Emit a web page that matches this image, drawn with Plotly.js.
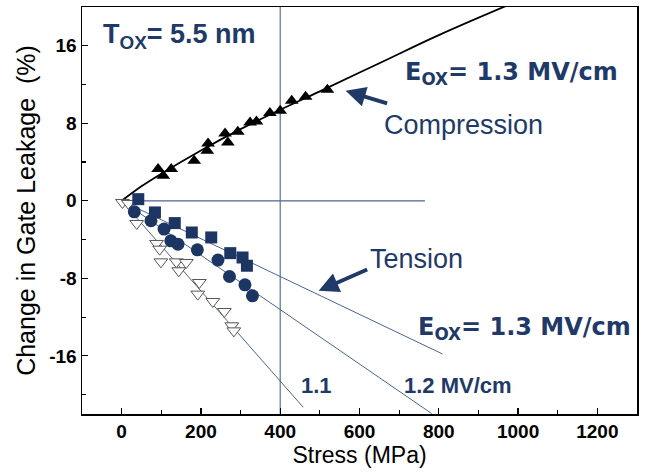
<!DOCTYPE html>
<html>
<head>
<meta charset="utf-8">
<script src="https://cdn.plot.ly/plotly-3.0.1.min.js"></script>
<style>html,body{margin:0;padding:0;background:#fff;}#chart{width:646px;height:474px;}</style>
</head>
<body>
<div id="chart"></div>
<script>
// Compression (filled up-triangles)
const compX = [92,105,125,183,216,218,261,268,293,324,340,374,400,429,464,519];
const compY = [3.27,2.58,3.27,4.13,5.16,5.91,6.95,6.02,7.12,8.08,8.18,9.05,9.29,10.32,10.73,11.46];
// Compression fit curve
const compFitX = [0,50,100,200,300,400,500,650,800,975];
const compFitY = [0,1.5,2.8,5.2,7.4,9.4,11.3,14.2,17.1,20.2];
// Tension, Eox = 1.3 MV/cm (squares)
const sqX = [42,84,134,177,226,274,305,316];
const sqY = [0.17,-1.2,-2.3,-3.27,-3.78,-5.4,-5.85,-6.7];
// Tension, 1.2 MV/cm (circles)
const ciX = [32,74,107,124,142,191,243,272,311,330];
const ciY = [-1.14,-2.06,-2.92,-4.13,-4.47,-5.06,-6.12,-7.81,-8.67,-9.8];
// Tension, 1.1 MV/cm (open down-triangles)
const trX = [2,17,38,88,96,99,138,144,163,196,192,230,259,278,283];
const trY = [-0.17,-0.27,-2.34,-4.4,-4.99,-6.3,-6.3,-7.22,-6.37,-8.43,-9.63,-10.39,-11.42,-12.9,-13.42];
// Tension fit lines (start / end points)
const fit13X = [0,809], fit13Y = [0,-15.8];
const fit12X = [0,782], fit12Y = [0,-21.95];
const fit11X = [0,458], fit11Y = [0,-21.3];
// Reference lines
const hRefX = [-12,765], hRefY = [0,0];
const vRefX = [400,400], vRefY = [-22,20];
const xTicks = [0,200,400,600,800,1000,1200];
const yTicks = [-16,-8,0,8,16];

const navy = '#1f3a68';
const thin = '#4a6590';

const traces = [
  {x:hRefX,y:hRefY,mode:'lines',line:{color:thin,width:1.2},hoverinfo:'skip'},
  {x:vRefX,y:vRefY,mode:'lines',line:{color:'#5b7196',width:1.2},hoverinfo:'skip'},
  {x:fit13X,y:fit13Y,mode:'lines',line:{color:thin,width:1},hoverinfo:'skip'},
  {x:fit12X,y:fit12Y,mode:'lines',line:{color:thin,width:1},hoverinfo:'skip'},
  {x:fit11X,y:fit11Y,mode:'lines',line:{color:thin,width:1},hoverinfo:'skip'},
  {x:compFitX,y:compFitY,mode:'lines',line:{color:'#000',width:1.8,shape:'spline'},hoverinfo:'skip'},
  {x:trX,y:trY,mode:'markers',marker:{symbol:'triangle-down',size:12,color:'#fff',line:{color:'#555',width:1}}},
  {x:ciX,y:ciY,mode:'markers',marker:{symbol:'circle',size:13,color:'#1c3563'}},
  {x:sqX,y:sqY,mode:'markers',marker:{symbol:'square',size:12,color:'#1c3563'}},
  {x:compX,y:compY,mode:'markers',marker:{symbol:'triangle-up',size:12,color:'#000'}}
];

const txt = (x,y,text,size,bold,family) => ({
  x:x,y:y,xref:'x',yref:'y',text:bold?'<b>'+text+'</b>':text,showarrow:false,
  xanchor:'left',yanchor:'middle',font:{family:family||'Liberation Sans, Arial, sans-serif',size:size,color:navy}
});

const layout = {
  width:646,height:474,
  margin:{l:82,r:9,t:7,b:60},
  paper_bgcolor:'#fff',plot_bgcolor:'#fff',
  showlegend:false,
  font:{family:'Liberation Sans, Arial, sans-serif',color:'#000'},
  xaxis:{
    range:[-100,1300],tickvals:xTicks,ticktext:xTicks.map(v=>'<b>'+v+'</b>'),
    ticks:'inside',ticklen:6,tickwidth:1.2,tickcolor:'#000',
    minor:{tickvals:[100,300,500,700,900,1100],ticks:'inside',ticklen:4,tickcolor:'#000'},
    showline:true,mirror:true,linecolor:'#000',linewidth:1.5,
    showgrid:false,zeroline:false,
    tickfont:{size:19,family:'Liberation Sans, Arial, sans-serif'},
    title:{text:'Stress (MPa)',font:{size:23},standoff:5}
  },
  yaxis:{
    range:[-22,20],tickvals:yTicks,ticktext:yTicks.map(v=>'<b>'+v+'</b>'),
    ticks:'inside',ticklen:6,tickwidth:1.2,tickcolor:'#000',
    minor:{tickvals:[-20,-12,-4,4,12],ticks:'inside',ticklen:4,tickcolor:'#000'},
    showline:true,mirror:true,linecolor:'#000',linewidth:1.5,
    showgrid:false,zeroline:false,
    tickfont:{size:19,family:'Liberation Sans, Arial, sans-serif'},
    title:{text:'Change in Gate Leakage&nbsp; (%)',font:{size:25},standoff:6}
  },
  annotations:[
    txt(-52,17.0,'T<sub>OX</sub>= 5.5 nm',27,true),
    txt(710,13.1,'E<sub>OX</sub>= 1.3 MV/cm',24,true,'DejaVu Sans, Verdana, sans-serif'),
    txt(658,7.8,'Compression',27,false),
    txt(622,-6.0,'Tension',27,false),
    txt(742,-13.2,'E<sub>OX</sub>= 1.3 MV/cm',24,true,'DejaVu Sans, Verdana, sans-serif'),
    txt(448,-19.1,'1.1',22,true),
    txt(708,-19.1,'1.2 MV/cm',22,true),
    {x:565,y:11.35,xref:'x',yref:'y',ax:43,ay:13,text:'',showarrow:true,arrowhead:2,arrowsize:1,arrowwidth:4,arrowcolor:navy},
    {x:497,y:-9.29,xref:'x',yref:'y',ax:50,ay:-22,text:'',showarrow:true,arrowhead:2,arrowsize:1,arrowwidth:4,arrowcolor:navy}
  ]
};

Plotly.newPlot('chart',traces,layout,{staticPlot:true,displayModeBar:false});
</script>
</body>
</html>
